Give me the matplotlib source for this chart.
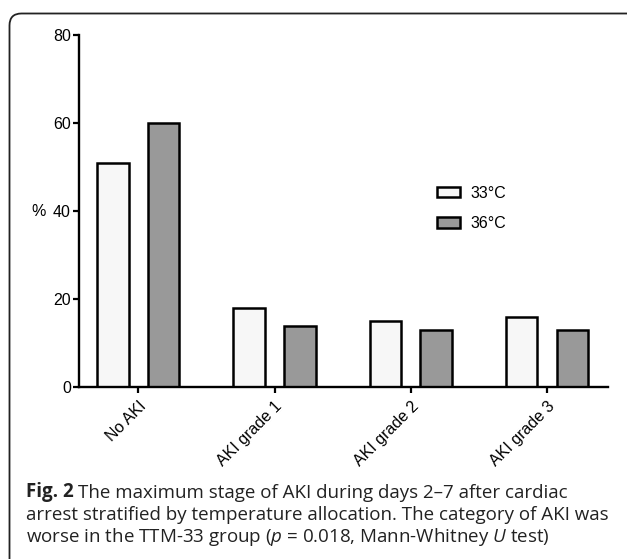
import matplotlib
matplotlib.use("Agg")
import matplotlib.pyplot as plt
from matplotlib.patches import FancyBboxPatch
import numpy as np

categories = ["No AKI", "AKI grade 1", "AKI grade 2", "AKI grade 3"]
series_names = ["33°C", "36°C"]
vals_33 = [51, 18, 15, 16]
vals_36 = [60, 14, 13, 13]
yticks = [0, 20, 40, 60, 80]

plt.rcParams['font.family'] = ['Liberation Sans', 'DejaVu Sans']
plt.rcParams['mathtext.fontset'] = 'custom'
plt.rcParams['mathtext.rm'] = 'Open Sans'
plt.rcParams['mathtext.it'] = 'Open Sans:italic'
plt.rcParams['mathtext.bf'] = 'Open Sans:bold'

W, H = 627, 559
fig = plt.figure(figsize=(W / 100, H / 100), dpi=100)

# background frame
bg = fig.add_axes([0, 0, 1, 1])
bg.set_xlim(0, W)
bg.set_ylim(H, 0)
bg.axis('off')
frame = FancyBboxPatch((9.5, 13.5), W + 40, H + 40,
                       boxstyle="round,pad=0,rounding_size=12",
                       fc='white', ec='#222222', lw=1.3)
bg.add_patch(frame)

ax = fig.add_axes([78.5 / W, 1 - 387.3 / H, (607.7 - 78.5) / W, (387.3 - 35) / H])
ax.patch.set_alpha(0)
x = np.arange(len(categories))
bw = 0.23
off = 0.187
ax.bar(x - off, vals_33, bw, color='#f7f7f7', edgecolor='black', lw=1.8, label=series_names[0], zorder=1)
ax.bar(x + off, vals_36, bw, color='#999999', edgecolor='black', lw=1.8, label=series_names[1], zorder=1)

ax.set_xlim(-0.44, 3.448)
ax.set_ylim(0, 80)
ax.set_yticks(yticks)
ax.set_xticks(x)
ax.set_xticklabels(categories, rotation=45, ha='right', rotation_mode='anchor', fontsize=11.5)
ax.tick_params(axis='y', labelsize=11.5, length=4, width=1.6, pad=1.5)
ax.tick_params(axis='x', length=4.5, width=1.6, pad=3.5)
for s in ['top', 'right']:
    ax.spines[s].set_visible(False)
for s in ['left', 'bottom']:
    ax.spines[s].set_linewidth(1.7)
    ax.spines[s].set_zorder(3)

# "%" label next to 40
ax.text(-0.44 - 32.5 / 136.1, 40, "%", fontsize=11.5, ha='right', va='center')

leg = ax.legend(loc='upper left', bbox_to_anchor=(436.5 / W, 1 - 186 / H),
                bbox_transform=fig.transFigure, frameon=False, fontsize=11.5,
                handlelength=1.45, handleheight=0.6, handletextpad=0.7,
                labelspacing=0.95, borderpad=0, borderaxespad=0)

cap_fs = 13.5
cap_col = '#222222'
fig_lbl = bg.text(26, 497, "Fig. 2", fontsize=cap_fs, family='Open Sans', weight='bold',
                  color=cap_col, ha='left', va='baseline')
bg.annotate("The maximum stage of AKI during days 2–7 after cardiac",
            xy=(1, 0), xycoords=fig_lbl, xytext=(4.5, 0), textcoords='offset pixels',
            fontsize=cap_fs, family='Open Sans', color=cap_col, ha='left', va='bottom')
rest = [
    "arrest stratified by temperature allocation. The category of AKI was",
    r"worse in the TTM-33 group ($\it{p}$ = 0.018, Mann-Whitney $\it{U}$ test)",
]
for t, yb in zip(rest, [520, 542]):
    bg.text(26, yb, t, fontsize=cap_fs, family='Open Sans', color=cap_col, ha='left', va='baseline')

fig.savefig("out.png", dpi=100)
